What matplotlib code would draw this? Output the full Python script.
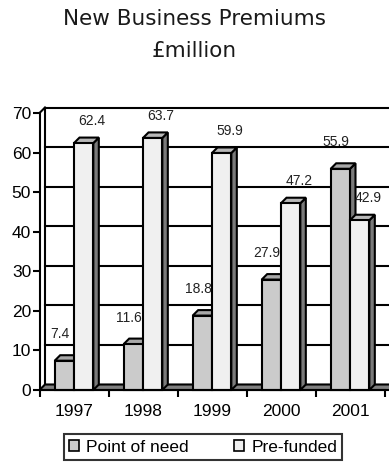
import numpy as np
import matplotlib
matplotlib.use('Agg')
import matplotlib.pyplot as plt
from matplotlib.patches import Polygon, Patch

years = ['1997', '1998', '1999', '2000', '2001']
point_of_need = [7.4, 11.6, 18.8, 27.9, 55.9]
pre_funded = [62.4, 63.7, 59.9, 47.2, 42.9]
series_names = ['Point of need', 'Pre-funded']

W, H = 389, 462
fig = plt.figure(figsize=(W / 100, H / 100), dpi=100)

# plot area in pixels (front face)
px_left, px_right, px_top, px_bot = 39.5, 384.5, 113, 390
ax = fig.add_axes([px_left / W, (H - px_bot) / H,
                   (px_right - px_left) / W, (px_bot - px_top) / H])
ax.set_xlim(-0.5, 4.5)
ax.set_ylim(0, 70)

# depth of the fake 3d, converted to data units
dpx = 5.5
ux = dpx / ((px_right - px_left) / 5.0)
uy = dpx / ((px_bot - px_top) / 70.0)

front_cols = ['#cbcbcb', '#f0f0f0']
top_cols = ['#a8a8a8', '#b8b8b8']
side_col = '#7a7a7a'
lw = 1.5

x = np.arange(len(years))
bw = 0.28

# back wall and gridlines
x0, x1 = -0.5, 4.5
for v in range(0, 80, 10):
    ax.plot([x0 + ux, x1 + ux + 0.2], [v + uy, v + uy], color='black', lw=lw,
            clip_on=False, zorder=1)
ax.plot([x0 + ux, x0 + ux], [uy, 70 + uy], color='black', lw=lw, clip_on=False, zorder=1)
ax.plot([x0, x0 + ux], [70, 70 + uy], color='black', lw=lw, clip_on=False, zorder=1)

# floor
floor = Polygon([[x0, 0], [x1 + 0.2, 0], [x1 + 0.2 + ux, uy], [x0 + ux, uy]],
                closed=True, facecolor='#808080', edgecolor='black', lw=lw,
                clip_on=False, zorder=2)
ax.add_patch(floor)


def bar3d(xl, h, fc, tc, z):
    xr = xl + bw
    front = Polygon([[xl, 0], [xr, 0], [xr, h], [xl, h]], closed=True,
                    facecolor=fc, edgecolor='black', lw=lw, zorder=z, clip_on=False)
    top = Polygon([[xl, h], [xr, h], [xr + ux, h + uy], [xl + ux, h + uy]], closed=True,
                  facecolor=tc, edgecolor='black', lw=lw, zorder=z, clip_on=False)
    side = Polygon([[xr, 0], [xr + ux, uy], [xr + ux, h + uy], [xr, h]], closed=True,
                   facecolor=side_col, edgecolor='black', lw=lw, zorder=z, clip_on=False)
    for p in (side, top, front):
        ax.add_patch(p)


for i in range(len(years)):
    bar3d(x[i] - bw, point_of_need[i], front_cols[0], top_cols[0], 3 + 2 * i)
    bar3d(x[i], pre_funded[i], front_cols[1], top_cols[1], 4 + 2 * i)

# data labels
for i in range(len(years)):
    ax.annotate('{:.1f}'.format(point_of_need[i]), (x[i] - bw / 2, point_of_need[i]),
                xytext=(-3, 19), textcoords='offset points', ha='center', va='center',
                fontsize=10, family='Liberation Sans', color='#222222', zorder=20,
                annotation_clip=False)
    ax.annotate('{:.1f}'.format(pre_funded[i]), (x[i] + bw / 2, pre_funded[i]),
                xytext=(6, 16), textcoords='offset points', ha='center', va='center',
                fontsize=10, family='Liberation Sans', color='#222222', zorder=20,
                annotation_clip=False)

# axes / ticks
for s in ['top', 'right']:
    ax.spines[s].set_visible(False)
for s in ['left', 'bottom']:
    ax.spines[s].set_linewidth(lw)
    ax.spines[s].set_zorder(30)
ax.set_yticks(range(0, 80, 10))
ax.set_xticks(np.arange(-0.5, 5.0, 1.0))
ax.set_xticklabels([])
ax.set_xticks(x, minor=True)
ax.set_xticklabels(years, minor=True)
ax.tick_params(axis='both', which='major', direction='out', length=5, width=lw)
ax.tick_params(axis='x', which='minor', length=0, pad=10, labelsize=12.5)
ax.tick_params(axis='y', labelsize=12.5, pad=1)
for lab in ax.get_xticklabels(minor=True) + ax.get_yticklabels():
    lab.set_family('Liberation Sans')
ax.patch.set_visible(False)

fig.text(0.5, 1 - 19 / H, 'New Business Premiums', ha='center', va='center',
         fontsize=15.5, family='DejaVu Sans', color='#1a1a1a')
fig.text(0.5, 1 - 51 / H, '£million', ha='center', va='center',
         fontsize=15.5, family='DejaVu Sans', color='#1a1a1a')

handles = [Patch(facecolor=front_cols[0], edgecolor='black', lw=1.2),
           Patch(facecolor=front_cols[1], edgecolor='black', lw=1.2)]
leg = fig.legend(handles, series_names, loc='center', bbox_to_anchor=(203 / W, 1 - 447 / H),
                 ncol=2, frameon=True, fancybox=False, handlelength=0.6, handleheight=0.6,
                 handletextpad=0.4, columnspacing=2.6, borderpad=0.3, borderaxespad=0,
                 prop={'family': 'Liberation Sans', 'size': 12.5})
leg.get_frame().set_edgecolor('black')
leg.get_frame().set_linewidth(lw)

fig.savefig('out.png', dpi=100)
